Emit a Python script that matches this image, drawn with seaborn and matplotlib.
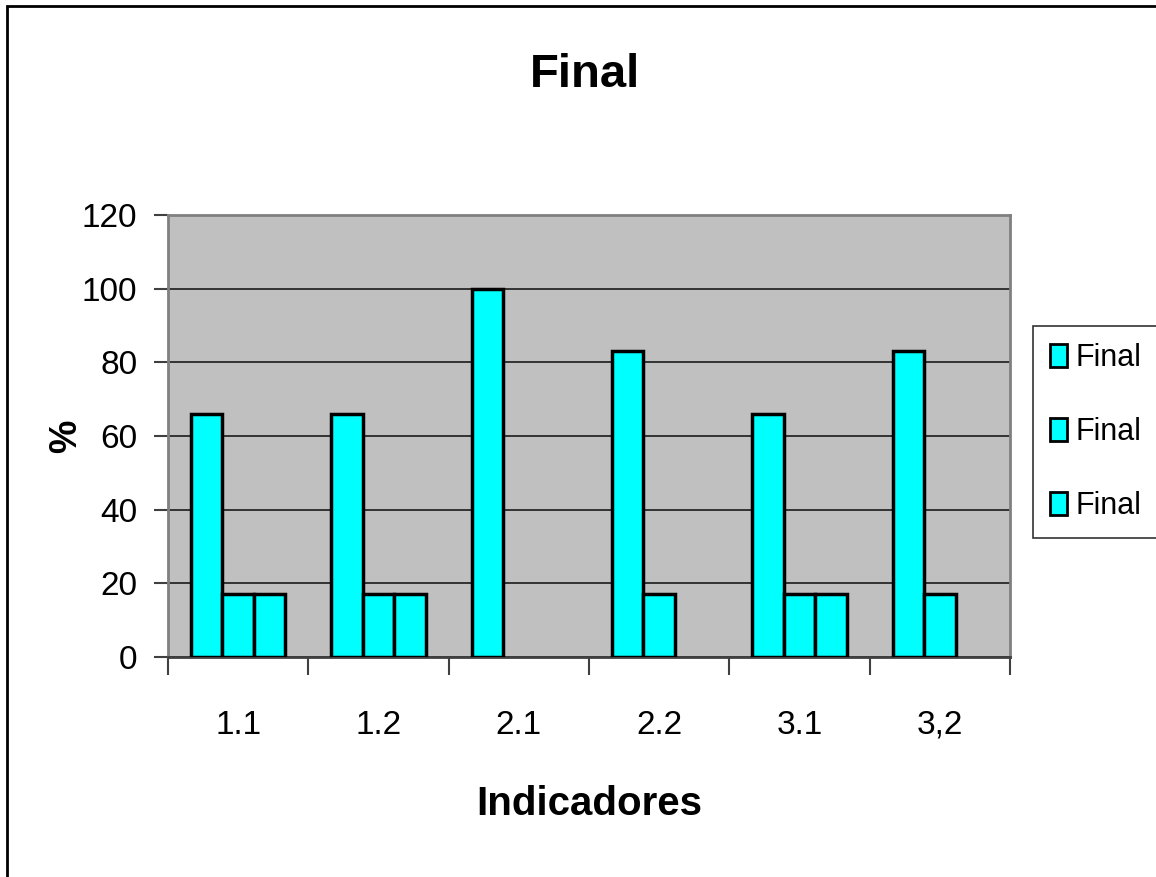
import numpy as np
import pandas as pd
import matplotlib
matplotlib.use("Agg")
import matplotlib.pyplot as plt
from matplotlib import font_manager
from matplotlib.patches import Patch, Rectangle
import seaborn as sns

# ---- data ----
indicadores = ["1.1", "1.2", "2.1", "2.2", "3.1", "3,2"]
serie1 = [66, 66, 100, 83, 66, 83]
serie2 = [17, 17, None, 17, 17, 17]
serie3 = [17, 17, None, None, 17, None]
series_keys = ["s1", "s2", "s3"]
legend_labels = ["Final", "Final", "Final"]
title = "Final"
ylabel = "%"
xlabel = "Indicadores"
yticks = [0, 20, 40, 60, 80, 100, 120]

rows = []
for key, vals in zip(series_keys, [serie1, serie2, serie3]):
    for cat, v in zip(indicadores, vals):
        rows.append({"Indicador": cat, "Serie": key,
                     "Valor": np.nan if v is None else v})
df = pd.DataFrame(rows)

sns.set_theme(style="white")
avail = {f.name for f in font_manager.fontManager.ttflist}
fam = [f for f in ["Liberation Sans Narrow", "Liberation Sans", "DejaVu Sans"] if f in avail]
plt.rcParams["font.family"] = fam
plt.rcParams["text.color"] = "black"
plt.rcParams["axes.labelcolor"] = "black"
plt.rcParams["xtick.labelcolor"] = "black"
plt.rcParams["ytick.labelcolor"] = "black"

fig = plt.figure(figsize=(11.56, 8.77), dpi=100)
ax = fig.add_axes([168/1156, 1-657/877, (1010-168)/1156, (657-215)/877])
ax.set_facecolor("#C0C0C0")

cyan = "#00FFFF"
sns.barplot(data=df, x="Indicador", y="Valor", hue="Serie", order=indicadores,
            hue_order=series_keys, palette=[cyan]*3, saturation=1,
            edgecolor="black", linewidth=2.5, width=0.67, gap=0,
            errorbar=None, legend=False, ax=ax, zorder=3)

ax.set_ylim(0, 120)
ax.set_xlim(-0.5, len(indicadores)-0.5)
ax.set_yticks(yticks)
ax.yaxis.grid(True, color="#333333", linewidth=1.4, zorder=0)
ax.xaxis.grid(False)
ax.set_axisbelow(True)

for s in ["top", "right", "left"]:
    ax.spines[s].set_color("#808080")
    ax.spines[s].set_linewidth(2)
ax.spines["bottom"].set_color("#404040")
ax.spines["bottom"].set_linewidth(2)

ax.tick_params(axis="y", which="major", length=10, width=1.5, color="#404040",
               pad=12, labelsize=24, left=True, labelcolor="black")
ax.set_xticks(range(len(indicadores)))
ax.set_xticklabels(indicadores)
ax.set_xticks(np.arange(-0.5, len(indicadores)), minor=True)
ax.tick_params(axis="x", which="major", length=0, pad=38, labelsize=24, labelcolor="black")
ax.tick_params(axis="x", which="minor", length=13, width=1.5, color="#404040", bottom=True)

ax.set_ylabel(ylabel, fontsize=27, fontweight="bold", color="black")
ax.yaxis.set_label_coords(-0.10, 0.5)
ax.set_xlabel(xlabel, fontsize=29, fontweight="bold", color="black")
ax.xaxis.set_label_coords(0.5, -0.29)

fig.text(585/1156, 1-75/877, title, ha="center", va="center",
         fontsize=34, fontweight="bold", color="black")

handles = [Patch(facecolor=cyan, edgecolor="black", linewidth=2) for _ in series_keys]
leg = fig.legend(handles, legend_labels, loc="upper left",
                 bbox_to_anchor=(1033/1156, 1-326/877), borderaxespad=0,
                 fontsize=22, frameon=True, fancybox=False, edgecolor="black",
                 handlelength=0.55, handleheight=0.8, handletextpad=0.3,
                 labelspacing=1.45, borderpad=0.55)
leg.get_frame().set_linewidth(1.2)
for t in leg.get_texts():
    t.set_color("black")

# figure border (left/top visible, cropped on right/bottom)
fig.patches.append(Rectangle((7/1156, -0.1), 1.1, 1 - 6/877 + 0.1,
                             transform=fig.transFigure, fill=False,
                             edgecolor="black", linewidth=2, clip_on=False))

fig.savefig("out.png", dpi=100)
